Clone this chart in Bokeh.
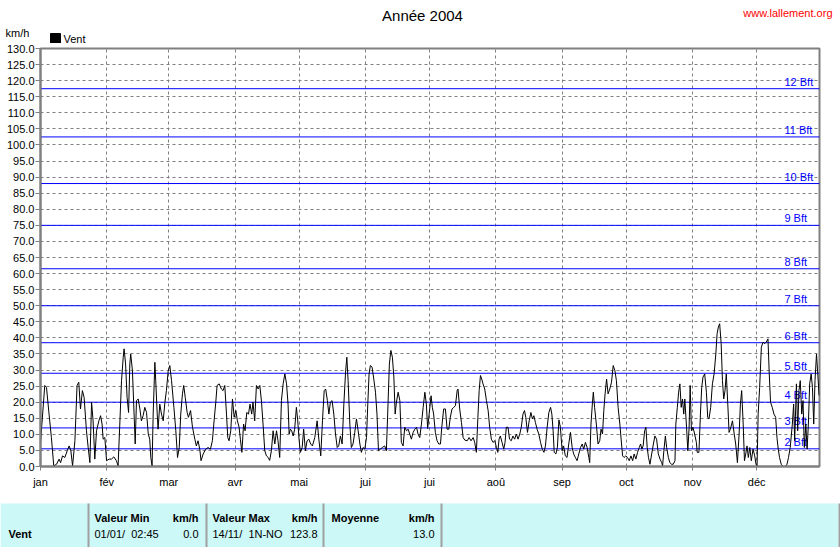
from bokeh.plotting import figure
from bokeh.models import Range1d, FixedTicker, NumeralTickFormatter, Span
from bokeh.layouts import column
from bokeh.core.properties import value
from bokeh.embed import file_html
from bokeh.resources import INLINE

# ---------------- data ----------------
title_text = "Année 2004"
site_text = "www.lallement.org"
unit_text = "km/h"
series_name = "Vent"

month_starts = [0, 31, 60, 91, 121, 152, 182, 213, 244, 274, 305, 335]
month_labels = ["jan", "fév", "mar", "avr", "mai", "jui", "jui", "aoû", "sep", "oct", "nov", "déc"]

bft_levels = [5.5, 12, 20, 29, 38.5, 50, 61.5, 75, 88, 102.5, 117.5]
bft_labels = ["2 Bft", "3 Bft", "4 Bft", "5 Bft", "6 Bft", "7 Bft", "8 Bft", "9 Bft", "10 Bft", "11 Bft", "12 Bft"]

# (day of year, km/h)
wind_jan_feb = [(0, 7.5), (2.0, 25.2), (2.8, 24.6), (4.0, 16.3), (5.1, 9.0), (6.2, 0.2), (7.5, 0.7), (8.7, 2.3),
                (9.4, 1.2), (10.3, 3.3), (11.4, 2.8), (12.5, 4.9), (13.4, 6.4), (14.2, 4.9), (15.0, 0.2), (16.1, 8.0),
                (17.1, 25.2), (17.9, 26.2), (18.7, 17.9), (19.6, 23.6), (20.4, 21.5), (21.5, 11.1), (22.3, 5.9),
                (23.1, 1.2), (23.9, 20.0), (24.6, 14.2), (25.4, 2.3), (26.2, 11.1), (27.3, 14.2), (28.1, 15.8),
                (28.8, 13.2), (29.3, 8.5), (30.1, 9.0), (30.9, 1.8), (32.1, 2.3), (33.2, 2.3), (34.3, 3.0), (35.5, 1.8),
                (36.3, 0.2), (37.1, 13.2), (37.9, 26.7), (38.7, 34.0), (39.1, 36.6), (39.8, 31.9), (40.5, 21.5),
                (41.2, 16.8), (41.8, 31.9), (42.2, 35.0), (43.0, 29.8), (43.6, 19.4), (44.3, 7.0), (44.9, 20.5),
                (45.7, 21.0), (46.5, 17.9), (47.2, 14.2), (48.0, 15.8), (48.8, 18.4), (49.6, 16.8), (50.4, 10.1),
                (51.1, 8.5), (51.6, 2.8), (52.2, 0.2), (52.7, 16.3), (53.5, 32.4), (53.9, 26.7), (54.6, 16.3),
                (55.0, 11.6), (55.8, 19.4), (56.6, 16.3), (57.4, 14.2), (58.2, 20.0), (58.9, 23.6)]
wind_mar_apr = [(59.7, 29.5), (60.5, 31.4), (61.3, 26.7), (62.4, 18.4), (63.3, 11.1), (64.1, 2.8), (64.9, 5.9),
                (65.6, 16.3), (66.4, 22.6), (67.0, 25.2), (67.7, 21.5), (68.6, 16.8), (69.2, 15.3), (70.2, 17.4),
                (71.1, 12.2), (72.2, 8.5), (72.9, 6.4), (73.7, 8.0), (74.5, 5.4), (75.1, 1.8), (76.1, 3.9), (77.3, 5.4),
                (78.4, 5.9), (79.5, 5.4), (80.4, 8.0), (81.2, 14.2), (82.0, 20.0), (82.6, 25.2), (83.6, 25.7),
                (84.6, 24.1), (85.4, 23.6), (86.2, 25.2), (87.0, 16.3), (87.6, 9.0), (88.2, 8.0), (89.0, 11.1),
                (89.8, 21.0), (90.6, 15.3), (91.4, 17.4), (92.1, 14.2), (92.9, 12.2), (93.5, 8.5), (94.2, 4.4),
                (95.0, 13.2), (95.7, 11.1), (96.5, 16.8), (97.3, 16.3), (98.0, 19.4), (98.8, 16.3), (99.4, 20.0),
                (100.2, 14.2), (101.0, 25.2), (101.8, 24.1), (102.6, 25.2), (103.4, 20.0), (104.1, 13.2), (104.9, 4.9),
                (105.7, 3.3), (106.5, 2.8), (107.2, 1.9), (108.0, 4.9), (108.8, 11.1), (109.6, 7.0), (110.4, 11.1),
                (111.1, 8.0), (111.9, 2.8), (112.7, 20.5), (113.5, 25.7), (114.3, 28.8), (115.1, 25.7), (115.8, 19.4),
                (116.3, 10.1), (116.9, 11.6), (117.5, 11.1), (118.2, 9.5), (118.9, 11.6), (119.7, 18.4)]
wind_may_jun = [(120.3, 14.5), (121.0, 8.0), (121.6, 4.4), (122.4, 5.9), (123.1, 11.6), (123.9, 4.9), (124.7, 8.0),
                (125.5, 8.5), (126.4, 7.0), (127.2, 6.4), (128.3, 9.0), (129.4, 14.2), (130.2, 8.5), (131.1, 3.3),
                (131.9, 14.2), (132.7, 23.6), (133.4, 24.1), (134.2, 20.5), (134.9, 16.3), (135.6, 20.0), (136.4, 20.5),
                (137.2, 16.3), (138.0, 10.1), (138.8, 5.9), (139.5, 6.4), (140.3, 9.5), (141.1, 7.0), (141.9, 19.4),
                (142.7, 29.3), (143.3, 34.0), (143.9, 26.7), (144.7, 13.2), (145.4, 5.9), (146.2, 7.0), (147.0, 10.6),
                (147.8, 14.8), (148.6, 11.1), (149.4, 7.0), (150.1, 4.4), (150.9, 5.9), (151.7, 5.4), (152.5, 9.0),
                (153.1, 19.4), (153.7, 28.8), (154.3, 31.4), (155.1, 30.9), (155.9, 27.2), (156.7, 23.1), (157.4, 16.3),
                (158.1, 4.9), (159.0, 5.4), (159.9, 5.9), (161.0, 6.4), (161.8, 4.9), (162.4, 16.3), (163.2, 31.9),
                (163.9, 36.1), (164.6, 34.0), (165.3, 27.8), (165.9, 16.3), (166.5, 20.0), (167.3, 23.1), (168.1, 20.5),
                (168.8, 7.5), (169.6, 6.4), (170.4, 12.2), (171.2, 11.1), (172.0, 11.6), (172.7, 10.1), (173.5, 8.5),
                (174.3, 10.6), (175.1, 11.6), (175.9, 12.2), (176.6, 10.1), (177.4, 9.0), (178.2, 13.2), (179.0, 18.4),
                (179.8, 23.1), (180.5, 19.4)]
wind_jul_aug = [(181.1, 11.8), (181.8, 16.3), (182.7, 22.0), (183.3, 18.4), (183.9, 16.3), (184.7, 10.6), (185.5, 8.0),
                (186.3, 7.0), (187.1, 7.0), (187.7, 12.2), (188.6, 17.9), (189.4, 17.9), (190.2, 11.6), (191.0, 11.6),
                (191.7, 15.3), (192.5, 17.9), (193.3, 18.4), (194.1, 18.9), (194.9, 23.6), (195.3, 24.1), (196.1, 17.9),
                (196.9, 13.7), (197.7, 9.0), (198.5, 8.2), (199.6, 8.0), (200.5, 9.0), (201.4, 8.0), (202.4, 9.0),
                (203.1, 7.5), (203.9, 4.4), (204.6, 15.3), (205.2, 23.6), (205.8, 28.3), (206.4, 27.2), (207.0, 25.7),
                (207.8, 24.1), (208.6, 20.5), (209.4, 17.4), (210.1, 12.2), (210.9, 8.5), (211.7, 7.5), (212.5, 8.0),
                (213.3, 5.9), (213.9, 4.4), (214.5, 8.5), (215.1, 9.5), (215.9, 7.5), (216.7, 5.4), (217.3, 7.5),
                (217.9, 12.2), (218.7, 12.2), (219.4, 8.5), (220.2, 8.0), (221.0, 9.5), (221.8, 8.5), (222.6, 10.1),
                (223.4, 8.5), (224.2, 10.1), (224.9, 12.2), (225.7, 16.3), (226.4, 17.4), (227.0, 15.3), (227.8, 10.6),
                (228.6, 14.2), (229.4, 16.8), (230.1, 14.8), (230.8, 15.8), (231.5, 13.7), (232.3, 11.6), (233.1, 10.1),
                (233.9, 7.5), (234.7, 5.4), (235.5, 4.4), (236.2, 6.4), (237.0, 12.2), (237.8, 16.8), (238.6, 18.4),
                (239.2, 16.3), (239.8, 11.1), (240.3, 4.4), (241.1, 3.9)]
wind_sep_oct = [(241.8, 6.0), (242.5, 14.5), (243.2, 12.2), (244.0, 4.9), (244.7, 6.4), (245.5, 3.3), (246.3, 2.8),
                (247.1, 7.0), (247.9, 10.6), (248.7, 5.9), (249.4, 3.9), (250.2, 2.8), (251.0, 1.8), (251.8, 3.9),
                (252.6, 5.9), (253.4, 7.0), (254.1, 5.4), (254.9, 7.5), (255.7, 5.9), (256.5, 2.8), (256.9, 1.2),
                (257.5, 13.2), (258.2, 20.0), (258.6, 23.1), (259.2, 18.4), (260.0, 13.2), (260.8, 7.0), (261.6, 8.0),
                (262.2, 11.6), (262.9, 10.1), (263.5, 17.4), (264.1, 22.6), (264.8, 27.2), (265.5, 22.6), (266.3, 24.1),
                (267.1, 26.2), (267.9, 31.4), (268.7, 29.8), (269.4, 26.7), (270.2, 18.4), (271.0, 13.2), (271.8, 7.0),
                (272.3, 3.3), (273.0, 2.8), (273.8, 3.3), (274.6, 2.8), (275.4, 1.8), (276.2, 3.3), (277.0, 1.8),
                (277.7, 3.9), (278.5, 2.3), (279.3, 4.4), (280.1, 5.9), (280.7, 7.0), (281.3, 5.4), (281.9, 6.4),
                (282.6, 11.1), (283.2, 12.2), (283.8, 5.9), (284.4, 2.8), (285.1, 0.7), (285.9, 3.9), (286.7, 7.0),
                (287.4, 9.5), (288.2, 8.5), (289.0, 3.9), (289.8, 2.3), (290.6, 1.2), (291.0, 0.2), (291.6, 4.9),
                (292.3, 9.5), (292.9, 5.9), (293.7, 2.8), (294.4, 1.2), (295.2, 0.7), (296.0, 0.7), (296.8, 1.8),
                (297.2, 13.2), (297.9, 18.4), (298.5, 23.1), (299.1, 25.7), (299.7, 18.4), (300.3, 21.0), (300.9, 16.3),
                (301.4, 21.0), (302.2, 12.2), (302.8, 4.9), (303.4, 12.0)]
wind_nov_dec = [(303.9, 25.2), (304.5, 11.1), (305.2, 12.2), (306.0, 10.1), (306.8, 7.5), (307.2, 4.4), (308.0, 4.4),
                (308.7, 16.3), (309.3, 24.6), (309.9, 27.8), (310.7, 28.8), (311.5, 23.1), (312.1, 15.3), (312.7, 14.8),
                (313.5, 18.4), (314.3, 25.7), (315.1, 28.8), (315.9, 35.0), (316.5, 41.3), (317.1, 43.4), (317.7, 44.4),
                (318.4, 38.2), (319.0, 26.7), (319.6, 21.0), (320.2, 23.6), (320.8, 28.8), (321.5, 19.4), (322.1, 10.6),
                (322.7, 11.6), (323.7, 14.2), (324.5, 10.1), (325.2, 7.0), (326.0, 1.2), (326.8, 10.1), (327.4, 19.4),
                (328.0, 23.6), (328.7, 13.2), (329.3, 1.8), (329.9, 3.9), (330.5, 6.4), (331.1, 2.8), (331.8, 5.9),
                (332.5, 1.8), (333.3, 5.4), (334.1, 3.3), (334.7, 0.7), (335.2, 0.2), (335.7, 16.3), (336.4, 24.6),
                (337.2, 37.1), (338.0, 38.7), (338.8, 38.2), (339.5, 38.7), (340.3, 39.7), (340.9, 28.8), (341.5, 20.0),
                (342.3, 18.4), (343.1, 16.3), (343.9, 15.3), (344.5, 9.0), (345.1, 5.4), (345.7, 2.8), (346.5, 0.7),
                (347.3, 0.0), (348.4, 0.0), (349.2, 0.7), (349.9, 2.8), (350.7, 5.9), (351.7, 13.2), (352.3, 19.4),
                (352.8, 8.0), (353.6, 25.7), (354.2, 11.1), (354.8, 23.6), (355.4, 26.7), (356.1, 16.3), (356.7, 20.5),
                (357.3, 5.9), (358.0, 13.2), (358.6, 5.4), (359.2, 13.2), (359.8, 25.7), (360.5, 28.8), (361.1, 24.6),
                (361.7, 13.2), (362.3, 26.7), (363.0, 35.0), (363.6, 28.8), (364.2, 22.1)]

table_headers = ["Valeur Min", "Valeur Max", "Moyenne"]
table_units = ["km/h", "km/h", "km/h"]
row_name = "Vent"
min_when = "01/01/\u00a0 02:45"
min_value = "0.0"
max_when = "14/11/\u00a0 1N-NO"
max_value = "123.8"
mean_value = "13.0"

# ---------------- build ----------------
FONT = "Liberation Sans"
GRAY = "#808080"
W = 840

all_pts = wind_jan_feb + wind_mar_apr + wind_may_jun + wind_jul_aug + wind_sep_oct + wind_nov_dec
days = [d for d, v in all_pts]
kmh = [v for d, v in all_pts]

# header strip
HH = 43
hdr = figure(width=W, height=HH, x_range=Range1d(0, W), y_range=Range1d(HH, 0),
             x_axis_location=None, y_axis_location=None, toolbar_location=None,
             output_backend="svg", min_border=0, outline_line_color=None)
hdr.frame_align = False
hdr.grid.visible = False
hdr.text(x=[422], y=[15], text=[title_text], text_align="center", text_baseline="middle",
         text_font=value(FONT), text_font_size="15px", text_color="#000000")
hdr.text(x=[832], y=[12], text=[site_text], text_align="right", text_baseline="middle",
         text_font=value(FONT), text_font_size="11px", text_color="#FF0000")
hdr.text(x=[5], y=[32], text=[unit_text], text_align="left", text_baseline="middle",
         text_font=value(FONT), text_font_size="11px", text_color="#000000")
hdr.quad(left=[50], right=[60], top=[33], bottom=[43], fill_color="black", line_color="black")
hdr.text(x=[63], y=[38], text=[series_name], text_align="left", text_baseline="middle",
         text_font=value(FONT), text_font_size="11px", text_color="#000000")

# main chart
p = figure(width=W, height=447, x_range=Range1d(0, 364.4), y_range=Range1d(0, 130),
           toolbar_location=None, output_backend="svg",
           min_border_left=40, min_border_right=21, min_border_top=5, min_border_bottom=22)
p.frame_align = False
p.outline_line_color = GRAY
p.outline_line_width = 2

p.yaxis.ticker = FixedTicker(ticks=list(range(0, 131, 5)))
p.yaxis.formatter = NumeralTickFormatter(format="0.0")
p.xaxis.ticker = FixedTicker(ticks=month_starts)
p.xaxis.major_label_overrides = {m: lab for m, lab in zip(month_starts, month_labels)}
for ax in (p.xaxis[0], p.yaxis[0]):
    ax.axis_line_color = GRAY
    ax.axis_line_width = 2
    ax.major_tick_line_color = GRAY
    ax.major_tick_in = 0
    ax.minor_tick_line_color = None
    ax.major_label_text_font = FONT
    ax.major_label_text_font_size = "11px"
    ax.major_label_text_color = "#000000"
p.yaxis.major_tick_out = 5
p.yaxis.major_label_standoff = 1
p.xaxis.major_tick_out = 4
p.xaxis.major_label_standoff = 5

p.grid.grid_line_color = GRAY
p.grid.grid_line_dash = "3 3"
p.grid.grid_line_width = 1

for lvl in bft_levels:
    p.add_layout(Span(location=lvl, dimension="width", line_color="#0000FF", line_width=1, level="underlay"))
p.text(x=[348] * len(bft_levels), y=bft_levels, text=bft_labels, text_color="#0000FF",
       text_font=value(FONT), text_font_size="11px", text_baseline="bottom", text_align="left", y_offset=-1)

p.line(days, kmh, line_color="black", line_width=1)

# stats table
TH = 57
tb = figure(width=W, height=TH, x_range=Range1d(0, W), y_range=Range1d(TH, 0),
            x_axis_location=None, y_axis_location=None, toolbar_location=None,
            output_backend="svg", min_border=0, outline_line_color=None)
tb.frame_align = False
tb.grid.visible = False
tb.quad(left=[0], right=[838], top=[13], bottom=[TH], fill_color="#CCF8F8", line_color=None)
tb.segment(x0=[88, 206, 323, 441, 839], y0=[13] * 5, x1=[88, 206, 323, 441, 839], y1=[TH] * 5,
           line_color="#A0A0A0", line_width=2)
tb.text(x=[94, 212, 331], y=[27] * 3, text=table_headers, text_align="left", text_baseline="middle",
        text_font=value(FONT), text_font_size="11px", text_font_style="bold", text_color="#000000")
tb.text(x=[198, 317, 434], y=[27] * 3, text=table_units, text_align="right", text_baseline="middle",
        text_font=value(FONT), text_font_size="11px", text_font_style="bold", text_color="#000000")
tb.text(x=[8], y=[43], text=[row_name], text_align="left", text_baseline="middle",
        text_font=value(FONT), text_font_size="11px", text_font_style="bold", text_color="#000000")
tb.text(x=[94, 212], y=[43, 43], text=[min_when, max_when], text_align="left", text_baseline="middle",
        text_font=value(FONT), text_font_size="11px", text_color="#000000")
tb.text(x=[198, 317, 434], y=[43] * 3, text=[min_value, max_value, mean_value], text_align="right",
        text_baseline="middle", text_font=value(FONT), text_font_size="11px", text_color="#000000")

layout = column(hdr, p, tb, spacing=0)
open("out.html", "w").write(file_html(layout, INLINE))
